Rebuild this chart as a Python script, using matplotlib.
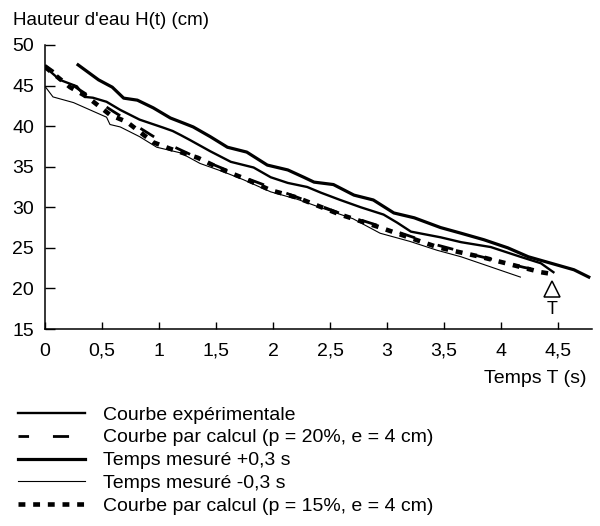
import matplotlib.pyplot as plt
from matplotlib.lines import Line2D

plt.rcParams['font.family'] = ['Liberation Sans', 'DejaVu Sans']

# Courbe expérimentale
t_exp = [0, 0.13, 0.28, 0.35, 0.42, 0.54, 0.66, 0.83, 1.04, 1.12, 1.19, 1.27, 1.45, 1.63, 1.83, 1.98,
         2.13, 2.30, 2.42, 2.59, 2.77, 2.97, 3.09, 3.21, 3.47, 3.65, 3.91, 4.17, 4.35, 4.46]
h_exp = [47.3, 45.7, 44.9, 43.6, 43.5, 43.0, 42.0, 40.8, 39.8, 39.4, 38.9, 38.3, 36.9, 35.6, 34.9, 33.7,
         33.0, 32.5, 31.8, 30.9, 30.0, 29.1, 28.1, 27.0, 26.3, 25.7, 25.1, 23.9, 23.1, 22.0]

# Courbe par calcul (p = 20%)
t_p20 = [0, 0.3, 0.6, 1.0, 1.4, 1.8, 2.2, 2.6, 3.0, 3.4, 3.8, 4.2, 4.44]
h_p20 = [47.5, 44.5, 41.8, 38.3, 35.7, 33.4, 31.3, 29.2, 27.4, 25.5, 24.0, 22.6, 21.9]

# Temps mesuré +0,3 s
t_plus = [0.29, 0.47, 0.59, 0.69, 0.81, 0.95, 1.10, 1.21, 1.30, 1.45, 1.60, 1.77, 1.95, 2.13, 2.27,
          2.36, 2.53, 2.71, 2.88, 3.06, 3.24, 3.47, 3.65, 3.85, 4.06, 4.24, 4.44, 4.64, 4.77]
h_plus = [47.55, 45.7, 44.8, 43.45, 43.2, 42.25, 41.0, 40.4, 39.9, 38.7, 37.4, 36.8, 35.2, 34.6, 33.7,
          33.1, 32.8, 31.5, 30.9, 29.3, 28.7, 27.5, 26.8, 26.0, 25.0, 23.9, 23.1, 22.3, 21.4]

# Temps mesuré -0,3 s
t_minus = [0, 0.07, 0.25, 0.54, 0.57, 0.66, 0.83, 0.98, 1.19, 1.36, 1.56, 1.74, 1.98, 2.21,
           2.45, 2.70, 2.94, 3.20, 3.44, 3.65, 3.90, 4.17]
h_minus = [44.9, 43.6, 42.9, 41.1, 40.2, 39.9, 38.7, 37.4, 36.7, 35.4, 34.4, 33.4, 31.9, 31.0,
           29.8, 28.6, 26.8, 25.8, 24.7, 23.9, 22.7, 21.4]

# Courbe par calcul (p = 15%)
t_p15 = [0, 0.22, 0.37, 0.57, 0.72, 0.95, 1.10, 1.34, 1.56, 1.74, 1.98, 2.21, 2.59, 2.92,
         3.21, 3.44, 3.56, 3.82, 4.10, 4.35, 4.44]
h_p15 = [47.3, 44.8, 43.6, 41.4, 40.5, 38.0, 37.2, 36.1, 34.6, 33.6, 32.1, 31.2, 29.1, 27.6,
         26.2, 25.1, 24.7, 23.9, 22.9, 22.0, 21.8]

x_ticks = [0, 0.5, 1, 1.5, 2, 2.5, 3, 3.5, 4, 4.5]
x_labels = ['0', '0,5', '1', '1,5', '2', '2,5', '3', '3,5', '4', '4,5']
y_ticks = [15, 20, 25, 30, 35, 40, 45, 50]

labels = ['Courbe expérimentale',
          'Courbe par calcul (p = 20%, e = 4 cm)',
          'Temps mesuré +0,3 s',
          'Temps mesuré -0,3 s',
          'Courbe par calcul (p = 15%, e = 4 cm)']

fig = plt.figure(figsize=(6, 5.26), dpi=100)
ax = fig.add_axes([0.075, 0.3745, 0.912, 0.54])

st_exp = dict(color='black', lw=1.7, ls='-')
st_p20 = dict(color='black', lw=2.0, ls=(2, (5.8, 8.6)))
st_plus = dict(color='black', lw=2.3, ls='-')
st_minus = dict(color='black', lw=0.8, ls='-')
st_p15 = dict(color='black', lw=3.3, ls=(0, (1.5, 1.7)))

ax.plot(t_exp, h_exp, **st_exp)
ax.plot(t_p20, h_p20, **st_p20)
ax.plot(t_plus, h_plus, **st_plus)
ax.plot(t_minus, h_minus, **st_minus)
ax.plot(t_p15, h_p15, **st_p15)

# repère T
ax.plot([4.45], [19.9], marker='^', ms=11, mfc='white', mec='black', mew=1.1, ls='none')
ax.text(4.45, 17.4, 'T', ha='center', va='center', fontsize=13)

ax.set_xlim(0, 4.8)
ax.set_ylim(15, 50)
ax.set_xticks(x_ticks)
ax.set_xticklabels(x_labels)
ax.set_yticks(y_ticks)
for s in ['top', 'right']:
    ax.spines[s].set_visible(False)
ax.spines['left'].set_linewidth(1.1)
ax.spines['bottom'].set_linewidth(1.1)
ax.tick_params(axis='x', direction='in', length=5, width=1, pad=10, labelsize=14)
ax.tick_params(axis='y', direction='in', length=7, width=1, pad=8, labelsize=14)

fig.text(13 / 600, 1 - 25 / 526, "Hauteur d'eau H(t) (cm)", fontsize=13.5, va='baseline')
fig.text(587 / 600, 1 - 383 / 526, 'Temps T (s)', fontsize=14, ha='right', va='baseline')

handles = [Line2D([], [], **st_exp), Line2D([], [], **st_p20), Line2D([], [], **st_plus),
           Line2D([], [], **st_minus), Line2D([], [], **st_p15)]
fig.legend(handles, labels, loc='upper left', bbox_to_anchor=(18 / 600, 1 - 406 / 526),
           frameon=False, fontsize=14, handlelength=3.45, handletextpad=0.9,
           labelspacing=0.27, borderpad=0, borderaxespad=0)

fig.savefig('out.png', dpi=100)
